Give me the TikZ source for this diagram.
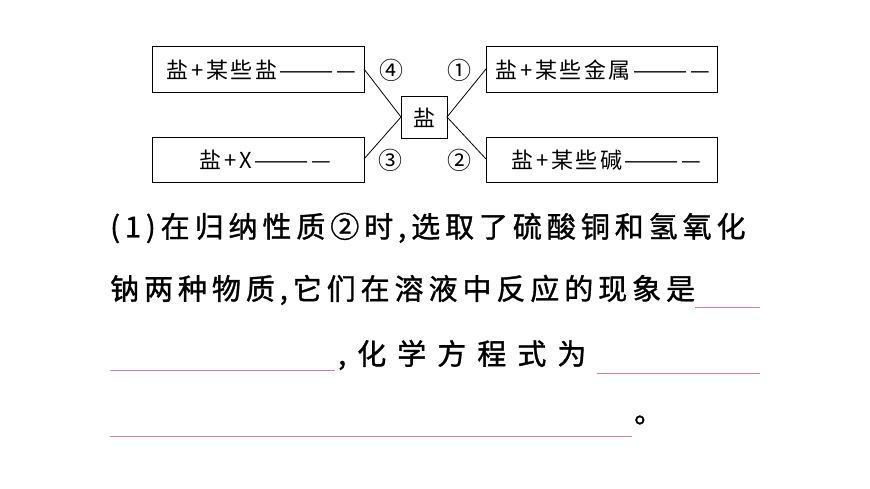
\documentclass[tikz,border=0pt]{standalone}
\usepackage{fontspec}
\setmainfont{Noto Sans CJK SC}
\begin{document}
\begin{tikzpicture}[x=1pt,y=-1pt,
  box/.style={draw,line width=1pt,inner sep=0pt,anchor=north west},
  bt/.style={font=\fontsize{22}{24}\selectfont\addfontfeature{LetterSpace=12}},
  num/.style={font=\fontsize{24}{24}\selectfont},
  row/.style={anchor=west,inner sep=0pt,font=\fontsize{29}{30}\selectfont\addfontfeature{FakeBold=1.2,LetterSpace=17}},
  ul/.style={draw=magenta!50!gray!80,line width=0.6pt}]
\useasboundingbox (0,0) rectangle (870,489);
\node[box,minimum width=212pt,minimum height=46pt] (a) at (152,46) {};
\node[box,minimum width=212pt,minimum height=45pt] (c) at (152,137) {};
\node[box,minimum width=231pt,minimum height=46pt] (b) at (486,46) {};
\node[box,minimum width=231pt,minimum height=45pt] (d) at (486,137) {};
\node[box,minimum width=46pt,minimum height=42pt] (s) at (401,96) {};
\node[bt,anchor=west] at (163,70) {盐+某些盐————};
\node[bt,anchor=west] at (196,160) {盐+X————};
\node[bt,anchor=west] at (492,70) {盐+某些金属————};
\node[bt,anchor=west] at (508,160) {盐+某些碱————};
\node[bt] at (s.center) {盐};
\node[num] (n4) at (391,70) {④};
\node[num] (n1) at (459,70) {①};
\node[num] (n3) at (390,160) {③};
\node[num] (n2) at (459,160) {②};
\coordinate (sl) at (401,117);
\coordinate (sr) at (447,117);
\draw[line width=0.8pt] (364,69) -- (sl) -- (364,159);
\draw[line width=0.8pt] (486,69) -- (sr) -- (486,159);
\node[row] (r1) at (110,228) {(1)在归纳性质②时,选取了硫酸铜和氢氧化};
\node[row] (r2) at (110,290) {钠两种物质,它们在溶液中反应的现象是};
\node[row,font=\fontsize{29}{30}\selectfont\addfontfeature{FakeBold=1.2,LetterSpace=38}] (r3) at (338,355) {,化学方程式为};
\node[row] (r4) at (634,420) {。};
\draw[ul] (695,307) -- (760,307);
\draw[ul] (110,370) -- (335,370);
\draw[ul] (597,373) -- (760,373);
\draw[ul] (110,436) -- (632,436);
\end{tikzpicture}
\end{document}
